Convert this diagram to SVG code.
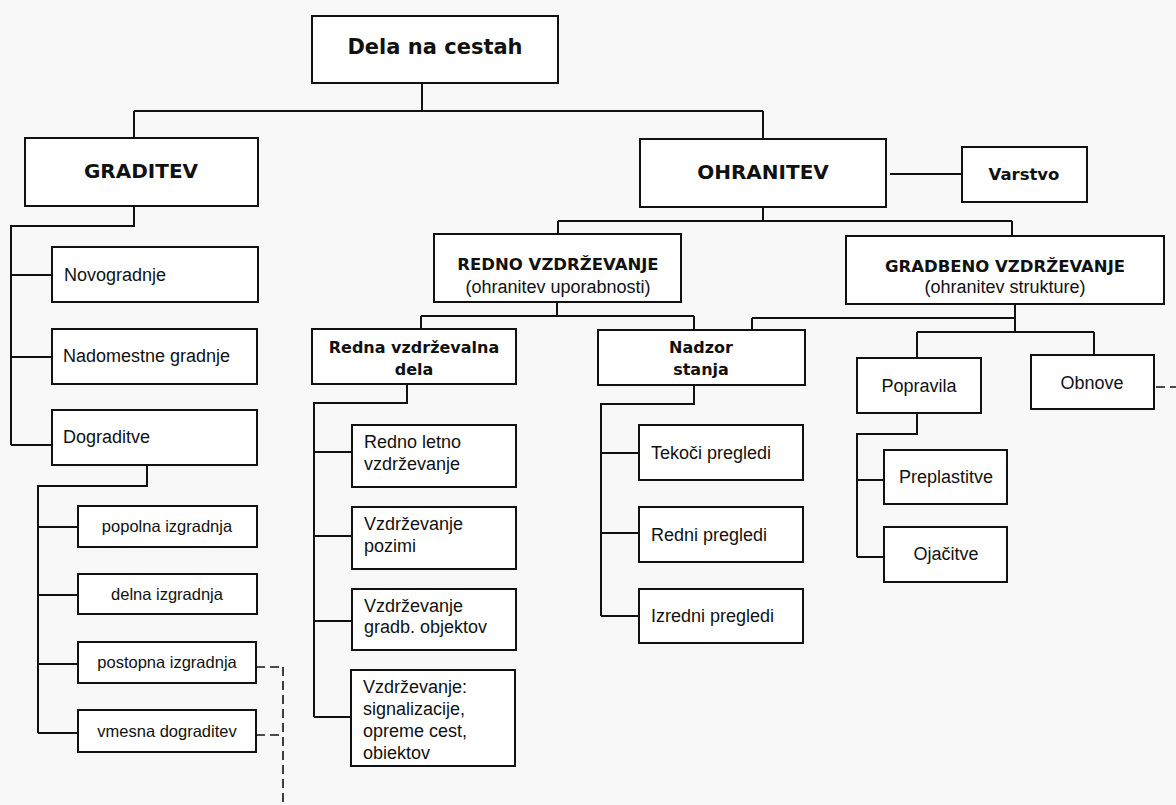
<svg xmlns="http://www.w3.org/2000/svg" width="1176" height="805" viewBox="0 0 1176 805">
<style>
.box{fill:#ffffff;stroke:#111;stroke-width:2}
.c{fill:none;stroke:#111;stroke-width:2}
.d{fill:none;stroke:#111;stroke-width:1.6;stroke-dasharray:9 5}
.t{font-family:"Liberation Sans",Arial,sans-serif;font-size:18px;fill:#111}
.s{font-family:"Liberation Sans",Arial,sans-serif;font-size:16.5px;fill:#111}
.b{font-family:"DejaVu Sans",Verdana,sans-serif;font-weight:bold;font-size:16.5px;fill:#111}
.h{font-family:"DejaVu Sans",Verdana,sans-serif;font-weight:bold;font-size:20px;fill:#111}
.m{text-anchor:middle}
</style>
<rect width="1176" height="805" fill="#f8f8f8"/>
<g id="connectors">
<path class="c" d="M422,83V111M134,111H763M134,111V138M763,111V139"/>
<path class="c" d="M134,206V226H11V445M11,275H52M11,357H52M11,445H52"/>
<path class="c" d="M147,465V486H38V733M38,527H78M38,595H78M38,664H78M38,733H78"/>
<path class="c" d="M890,174H962"/>
<path class="c" d="M763,207V221M558,221H1012M558,221V234M1012,221V236"/>
<path class="c" d="M557,302V316M421,316H694M421,316V329M694,316V330"/>
<path class="c" d="M1015,304V332M752,318H1015M752,318V330M917,332H1094M917,332V358M1094,332V355"/>
<path class="c" d="M407,384V403H314V717M314,452H352M314,536H352M314,621H352M314,717H352"/>
<path class="c" d="M694,385V404H601V616M601,453H639M601,533H639M601,616H639"/>
<path class="c" d="M917,413V434H857V557M857,480H884M857,557H884"/>
<path class="d" d="M256,667H283M256,735H283M283,667V805M1156,387H1176"/>
</g>
<g id="dela"><rect class="box" x="312" y="16" width="246" height="67"/><text class="h m" x="435" y="54" style="font-size:21px">Dela na cestah</text></g>
<g id="graditev"><rect class="box" x="25" y="138" width="233" height="68"/><text class="h m" x="141" y="178">GRADITEV</text></g>
<g id="ohranitev"><rect class="box" x="640" y="139" width="246" height="68"/><text class="h m" x="763" y="179">OHRANITEV</text></g>
<g id="varstvo"><rect class="box" x="962" y="147" width="125" height="55"/><text class="b m" x="1024" y="180">Varstvo</text></g>
<g id="redno"><rect class="box" x="434" y="234" width="247" height="68"/><text class="b m" x="558" y="270">REDNO VZDRŽEVANJE</text><text class="t m" x="558" y="293">(ohranitev uporabnosti)</text></g>
<g id="gradbeno"><rect class="box" x="846" y="236" width="318" height="68"/><text class="b m" x="1005" y="272">GRADBENO VZDRŽEVANJE</text><text class="t m" x="1005" y="293">(ohranitev strukture)</text></g>
<g id="novogradnje"><rect class="box" x="52" y="247" width="206" height="55"/><text class="t" x="64" y="281">Novogradnje</text></g>
<g id="nadomestne"><rect class="box" x="52" y="329" width="205" height="55"/><text class="t" x="63" y="362">Nadomestne gradnje</text></g>
<g id="dograditve"><rect class="box" x="52" y="410" width="205" height="55"/><text class="t" x="63" y="443">Dograditve</text></g>
<g id="popolna"><rect class="box" x="78" y="506" width="179" height="41"/><text class="s m" x="167" y="532">popolna izgradnja</text></g>
<g id="delna"><rect class="box" x="78" y="574" width="179" height="40"/><text class="s m" x="167" y="600">delna izgradnja</text></g>
<g id="postopna"><rect class="box" x="78" y="642" width="178" height="41"/><text class="s m" x="167" y="668">postopna izgradnja</text></g>
<g id="vmesna"><rect class="box" x="78" y="710" width="178" height="42"/><text class="s m" x="167" y="737">vmesna dograditev</text></g>
<g id="redna"><rect class="box" x="312" y="329" width="204" height="55"/><text class="b m" x="414" y="353" style="font-size:16px">Redna vzdrževalna</text><text class="b m" x="414" y="375" style="font-size:16px">dela</text></g>
<g id="nadzor"><rect class="box" x="598" y="330" width="207" height="55"/><text class="b m" x="701" y="353" style="font-size:16px">Nadzor</text><text class="b m" x="701" y="375" style="font-size:16px">stanja</text></g>
<g id="letno"><rect class="box" x="352" y="425" width="164" height="62"/><text class="t" x="364" y="448">Redno letno</text><text class="t" x="364" y="470">vzdrževanje</text></g>
<g id="pozimi"><rect class="box" x="352" y="507" width="164" height="62"/><text class="t" x="364" y="530">Vzdrževanje</text><text class="t" x="364" y="552">pozimi</text></g>
<g id="gradb"><rect class="box" x="352" y="589" width="164" height="61"/><text class="t" x="364" y="612">Vzdrževanje</text><text class="t" x="364" y="633">gradb. objektov</text></g>
<g id="signal"><rect class="box" x="351" y="670" width="164" height="96"/><text class="t" x="363" y="693">Vzdrževanje:</text><text class="t" x="363" y="715">signalizacije,</text><text class="t" x="363" y="737">opreme cest,</text><text class="t" x="363" y="759">obiektov</text></g>
<g id="tekoci"><rect class="box" x="639" y="425" width="164" height="55"/><text class="t" x="651" y="459">Tekoči pregledi</text></g>
<g id="redni"><rect class="box" x="639" y="507" width="164" height="55"/><text class="t" x="651" y="541">Redni pregledi</text></g>
<g id="izredni"><rect class="box" x="639" y="589" width="164" height="54"/><text class="t" x="651" y="622">Izredni pregledi</text></g>
<g id="popravila"><rect class="box" x="857" y="358" width="124" height="55"/><text class="t m" x="919" y="392">Popravila</text></g>
<g id="obnove"><rect class="box" x="1031" y="355" width="123" height="54"/><text class="t m" x="1092" y="389">Obnove</text></g>
<g id="preplastitve"><rect class="box" x="884" y="450" width="123" height="54"/><text class="t m" x="946" y="483">Preplastitve</text></g>
<g id="ojacitve"><rect class="box" x="884" y="527" width="123" height="55"/><text class="t m" x="946" y="560">Ojačitve</text></g>
</svg>
